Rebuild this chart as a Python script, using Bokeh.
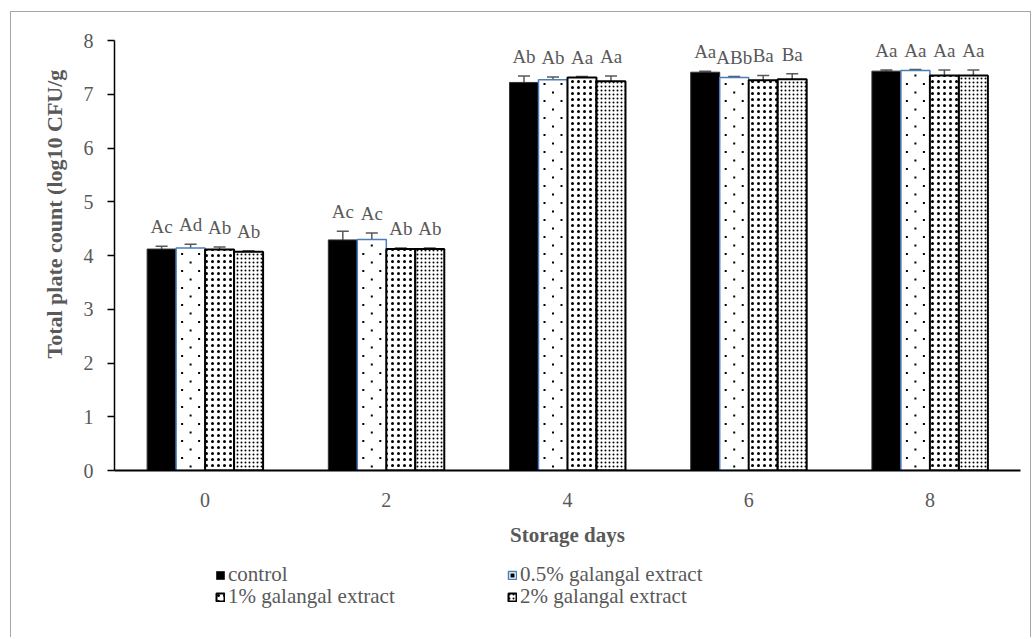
import math
import numpy as np
from bokeh.plotting import figure
from bokeh.layouts import column
from bokeh.models import (ColumnDataSource, Range1d, FixedTicker, Whisker, TeeHead,
                          Title, Legend, LegendItem)
from bokeh.core.properties import value
from bokeh.embed import file_html
from bokeh.resources import INLINE

# ---- data ----
days = [0, 2, 4, 6, 8]
day_labels = ["0", "2", "4", "6", "8"]
series_names = ["control", "0.5% galangal extract", "1% galangal extract", "2% galangal extract"]
control = [4.12, 4.29, 7.22, 7.41, 7.43]
ext05 = [4.14, 4.30, 7.27, 7.31, 7.44]
ext1 = [4.11, 4.12, 7.31, 7.26, 7.35]
ext2 = [4.07, 4.12, 7.24, 7.28, 7.35]
err_control = [0.05, 0.16, 0.12, 0.02, 0.02]
err_05 = [0.07, 0.12, 0.05, 0.02, 0.02]
err_1 = [0.05, 0.02, 0.02, 0.09, 0.10]
err_2 = [0.02, 0.02, 0.10, 0.10, 0.10]
lab_control = ["Ac", "Ac", "Ab", "Aa", "Aa"]
lab_05 = ["Ad", "Ac", "Ab", "ABb", "Aa"]
lab_1 = ["Ab", "Ab", "Aa", "Ba", "Aa"]
lab_2 = ["Ab", "Ab", "Aa", "Ba", "Aa"]
y_ticks = [0, 1, 2, 3, 4, 5, 6, 7, 8]

FONT = "Liberation Serif"
GRAY = "#595959"

X0, X1, Y0, Y1 = -1, 9, 0, 8
FRAME_W, FRAME_H = 906, 430

p = figure(width=1019, height=545, output_backend="svg", toolbar_location=None,
           x_range=Range1d(X0, X1), y_range=Range1d(Y0, Y1),
           min_border_left=103, min_border_right=10, min_border_top=28, min_border_bottom=87)
p.outline_line_color = None
p.xgrid.visible = False
p.ygrid.visible = False

styles = [
    dict(fill_color="black", line_color="#333333", line_width=1),
    dict(fill_color="white", line_color="#4a7ebb", line_width=1.5),
    dict(fill_color="white", line_color="black", line_width=2, hatch_pattern="dot",
         hatch_scale=6, hatch_color="black"),
    dict(fill_color="white", line_color="black", line_width=2, hatch_pattern="dot",
         hatch_scale=4, hatch_color="black"),
]
vals = [control, ext05, ext1, ext2]
errs = [err_control, err_05, err_1, err_2]
labs = [lab_control, lab_05, lab_1, lab_2]
bar_w = 0.32
offsets = [-1.5 * bar_w, -0.5 * bar_w, 0.5 * bar_w, 1.5 * bar_w]

# sparse staggered dot texture for the 0.5% bars (derived from bar geometry)
xpp = (X1 - X0) / FRAME_W
ypp = (Y1 - Y0) / FRAME_H
STEP = 8.5


def sparse_dots(centers, tops):
    dx, dy = [], []
    for c, t in zip(centers, tops):
        k = 0
        while (k * STEP + 4) * ypp < t - 2 * ypp:
            yy = (k * STEP + 4) * ypp
            cols = [c] if k % 2 == 0 else [c - STEP * xpp, c + STEP * xpp]
            for cx in cols:
                dx.append(cx)
                dy.append(yy)
            k += 1
    return dx, dy


sources = []
dot_src = None
for i in range(4):
    xs = [d + offsets[i] for d in days]
    src = ColumnDataSource(dict(
        x=xs, top=vals[i],
        upper=[v + e for v, e in zip(vals[i], errs[i])],
        lower=[v - e for v, e in zip(vals[i], errs[i])],
        text=labs[i]))
    sources.append(src)
    p.vbar(x="x", top="top", bottom=0, width=bar_w, source=src, **styles[i])
    if i == 1:
        dx, dy = sparse_dots(xs, vals[i])
        dot_src = ColumnDataSource(dict(x=dx, y=dy))
        p.scatter(x="x", y="y", source=dot_src, marker="square", size=2,
                  fill_color="black", line_color=None)

for i in range(4):
    src = sources[i]
    w = Whisker(base="x", upper="upper", lower="lower", source=src,
                line_color=GRAY, line_width=1.5,
                upper_head=TeeHead(size=12, line_color=GRAY, line_width=1.5),
                lower_head=TeeHead(size=12, line_color=GRAY, line_width=1.5))
    p.add_layout(w)
    p.text(x="x", y="upper", text="text", source=src, text_align="center",
           text_baseline="bottom", y_offset=-9, text_font=value(FONT),
           text_font_size="19px", text_color=GRAY)

# axes
yax = p.yaxis[0]
yax.ticker = FixedTicker(ticks=y_ticks)
yax.axis_line_color = "black"
yax.axis_line_width = 1.5
yax.major_tick_line_color = "black"
yax.major_tick_line_width = 1.5
yax.major_tick_out = 7
yax.major_tick_in = 0
yax.minor_tick_line_color = None
yax.major_label_standoff = 14
yax.major_label_text_font = FONT
yax.major_label_text_font_size = "20px"
yax.major_label_text_color = GRAY

xax = p.xaxis[0]
xax.ticker = FixedTicker(ticks=days)
xax.major_label_overrides = {d: s for d, s in zip(days, day_labels)}
xax.axis_line_color = "black"
xax.axis_line_width = 2
xax.major_tick_line_color = None
xax.major_tick_out = 0
xax.major_tick_in = 0
xax.minor_tick_line_color = None
xax.major_label_standoff = 22
xax.major_label_text_font = FONT
xax.major_label_text_font_size = "20px"
xax.major_label_text_color = GRAY
xax.axis_label = "Storage days"
xax.axis_label_standoff = 13
xax.axis_label_text_font = FONT
xax.axis_label_text_font_size = "21px"
xax.axis_label_text_font_style = "bold"
xax.axis_label_text_color = GRAY

ytitle = Title(text="Total plate count  (log10 CFU/g", align="left", offset=112,
               text_font=FONT, text_font_size="22px", text_font_style="bold",
               text_color=GRAY, standoff=27)
p.add_layout(ytitle, "left")

# legend figure (below the chart); hidden renderers only provide the legend glyphs
pl = figure(width=1019, height=80, output_backend="svg", toolbar_location=None,
            x_range=Range1d(X0, X1), y_range=Range1d(Y0, Y1),
            x_axis_type=None, y_axis_type=None, min_border=0)
pl.outline_line_color = None
leg_pos = [(101, 50), (393, 50), (101, 28), (393, 28)]
for i in range(4):
    r = pl.vbar(x="x", top="top", bottom=0, width=bar_w, source=sources[i], **styles[i])
    r.visible = False
    rs = [r]
    if i == 1:
        rd = pl.scatter(x="x", y="y", source=dot_src, marker="square", size=2,
                        fill_color="black", line_color=None)
        rd.visible = False
        rs.append(rd)
    lg = Legend(items=[LegendItem(label=series_names[i], renderers=rs)],
                location=leg_pos[i], border_line_color=None, background_fill_alpha=0,
                inactive_fill_alpha=0,
                padding=0, margin=0, glyph_width=10, glyph_height=10, label_standoff=3,
                label_text_font=FONT, label_text_font_size="21px", label_text_color=GRAY,
                label_height=23, spacing=0)
    pl.add_layout(lg)

layout = column(p, pl, spacing=0,
                styles={"border-left": "1px solid #a6a6a6", "border-top": "1px solid #a6a6a6",
                        "border-right": "1px solid #a6a6a6",
                        "margin-left": "10px", "margin-top": "11px"})

open("out.html", "w").write(file_html(layout, INLINE))
